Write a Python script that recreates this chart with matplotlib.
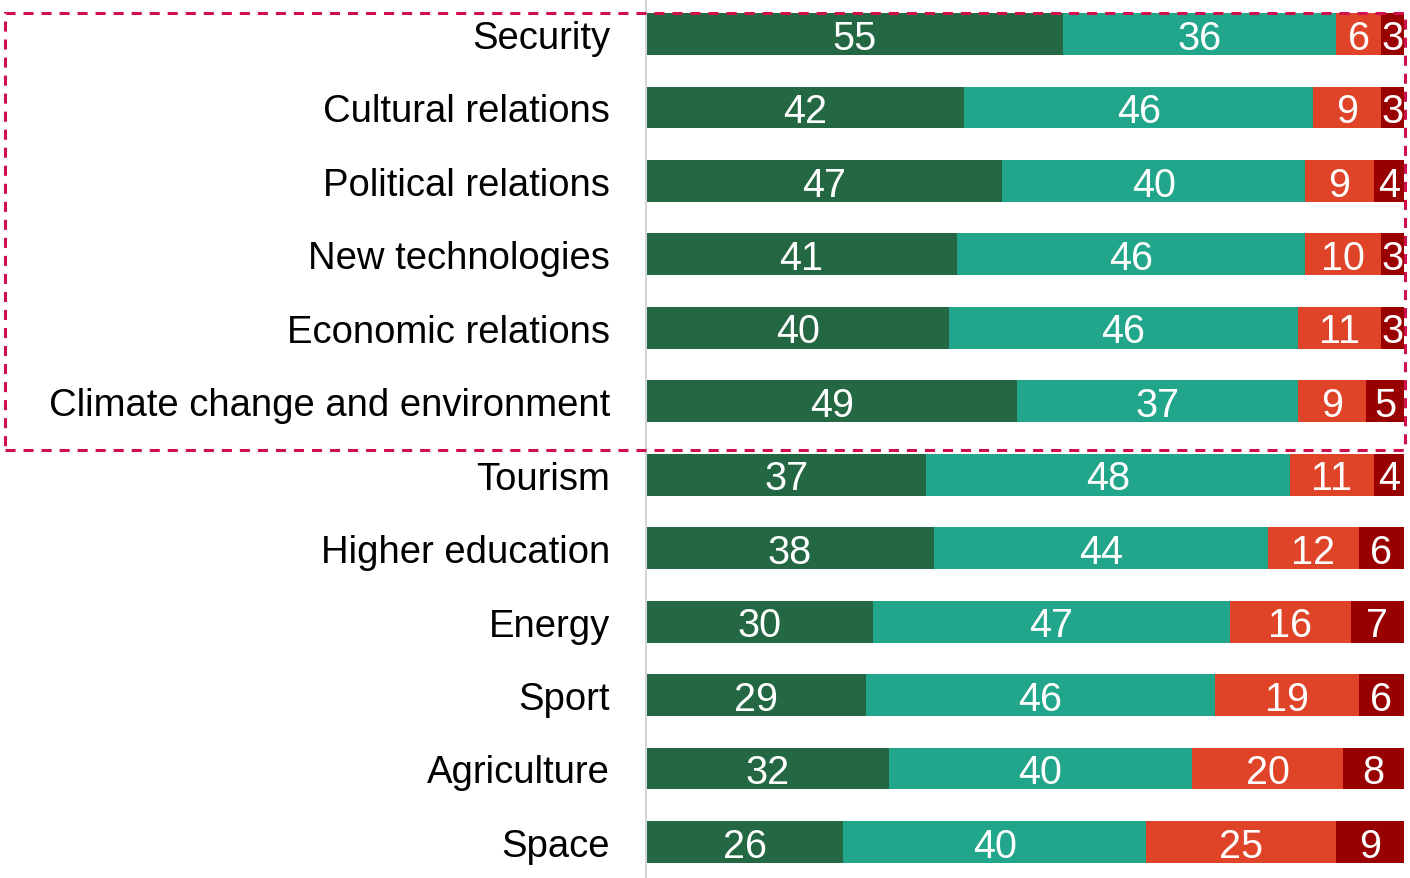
import numpy as np
import matplotlib

matplotlib.use("Agg")
import matplotlib.pyplot as plt
from matplotlib.patches import Rectangle


categories = [
    "Security", "Cultural relations", "Political relations", "New technologies",
    "Economic relations", "Climate change and environment", "Tourism",
    "Higher education", "Energy", "Sport", "Agriculture", "Space",
]
very_good = [55, 42, 47, 41, 40, 49, 37, 38, 30, 29, 32, 26]
good = [36, 46, 40, 46, 46, 37, 48, 44, 47, 46, 40, 40]
bad = [6, 9, 9, 10, 11, 9, 11, 12, 16, 19, 20, 25]
very_bad = [3, 3, 4, 3, 3, 5, 4, 6, 7, 6, 8, 9]

series = [very_good, good, bad, very_bad]
colors = ["#236843", "#21a68c", "#df4328", "#990000"]

W, H = 1410, 879
fig = plt.figure(figsize=(W / 100, H / 100), dpi=100)

x0, x1 = 646, 1404
top_c, pitch = 35, 73.45
ax = fig.add_axes([x0 / W, 0, (x1 - x0) / W, 1])
y = np.arange(len(categories))
ax.set_ylim((H - top_c) / pitch, -top_c / pitch)
ax.set_xlim(0, 100)

left = np.zeros(len(categories))
for vals, c in zip(series, colors):
    vals = np.array(vals, dtype=float)
    ax.barh(y, vals, left=left, height=0.57, color=c, linewidth=0)
    for yi, l, v in zip(y, left, vals):
        ax.text(l + v / 2, yi + 0.2, f"{int(v)}", ha="center", va="baseline",
                color="white", fontsize=28.5, family=["Liberation Sans", "DejaVu Sans"])
    left += vals

ax.set_yticks(y)
ax.set_yticklabels(categories, fontsize=27.5,
                   family=["Liberation Sans", "DejaVu Sans"])
ax.tick_params(axis="y", length=0, pad=26)
ax.set_xticks([])
for s in ["top", "right", "bottom"]:
    ax.spines[s].set_visible(False)
ax.spines["left"].set_color("#d5d5d5")
ax.spines["left"].set_linewidth(1.5)

# dashed highlight box around the first six rows
rect = Rectangle((5 / W, 1 - 451 / H), 1400 / W, (451 - 14) / H,
                 transform=fig.transFigure, fill=False, edgecolor="#d0104c",
                 linewidth=2.2, linestyle=(0, (3.3, 2.6)), zorder=10)
fig.patches.append(rect)

fig.savefig("out.png", dpi=100)
